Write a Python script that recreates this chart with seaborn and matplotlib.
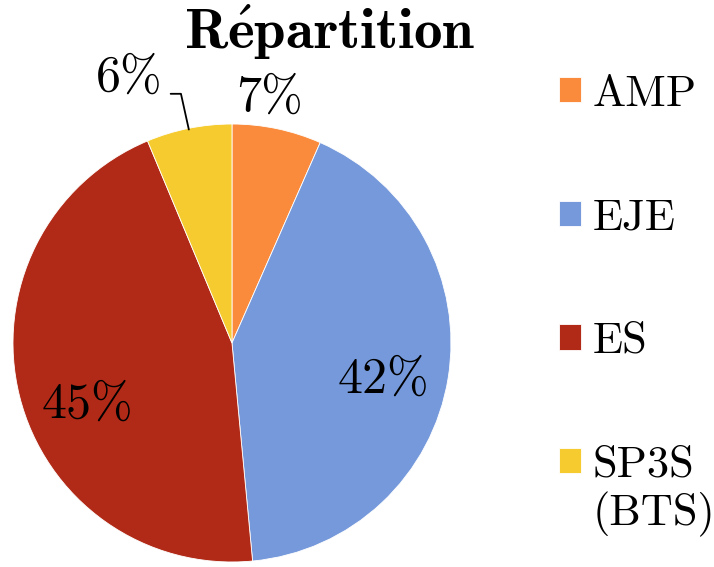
import matplotlib
matplotlib.use("Agg")
import matplotlib.pyplot as plt
import seaborn as sns

# données
categories = ["AMP", "EJE", "ES", "SP3S"]
sous_titre = "(BTS)"
parts = [6.6, 41.9, 45.2, 6.3]
pct_labels = ["7%", "42%", "45%", "6%"]
couleurs = ["#FB8B3C", "#7599DA", "#B12A17", "#F5CB30"]

sns.set_theme(style="white")
plt.rcParams['font.family'] = ['cmr10', 'DejaVu Serif']
plt.rcParams['mathtext.fontset'] = 'cm'
plt.rcParams['axes.formatter.use_mathtext'] = True
plt.rcParams['text.color'] = 'black'

fig = plt.figure(figsize=(7.14, 5.67), dpi=100)
ax = fig.add_axes([0.0182, 0.0088, 0.6134, 0.7725])

wedges, _ = ax.pie(parts, colors=sns.color_palette(couleurs), startangle=90,
                   counterclock=False, radius=1,
                   wedgeprops=dict(linewidth=0.6, edgecolor='white'))
ax.set_xlim(-1, 1)
ax.set_ylim(-1, 1)
ax.set_aspect('equal')
ax.axis('off')

# positions des étiquettes (coord. du camembert)
pos = [(0.17, 1.12), (0.69, -0.17), (-0.66, -0.28), (-0.47, 1.21)]
for (x, y), lab in zip(pos, pct_labels):
    ax.text(x, y, lab, ha='center', va='center', fontsize=36, clip_on=False,
            color='black')

# trait de rappel pour 6%
ax.plot([-0.28, -0.233, -0.197], [1.138, 1.138, 0.975], color='black',
        lw=1.3, clip_on=False)

fig.text(0.462, 0.942, r"$\mathbf{R\acute{e}partition}$", ha='center',
         va='center', fontsize=41, color='black')

leg = fig.legend(wedges, categories, loc='upper left',
                 bbox_to_anchor=(0.758, 0.90), frameon=False, fontsize=32,
                 handlelength=0.5, handleheight=0.5, handletextpad=0.25,
                 labelspacing=1.88, borderaxespad=0)
for t in leg.get_texts():
    t.set_color('black')

# deuxième ligne de la dernière entrée
fig.canvas.draw()
bb = leg.get_texts()[-1].get_window_extent().transformed(fig.transFigure.inverted())
fig.text(bb.x0, bb.y0 - 0.012, sous_titre, ha='left', va='top', fontsize=32,
         color='black')

fig.savefig('out.png', dpi=100)
